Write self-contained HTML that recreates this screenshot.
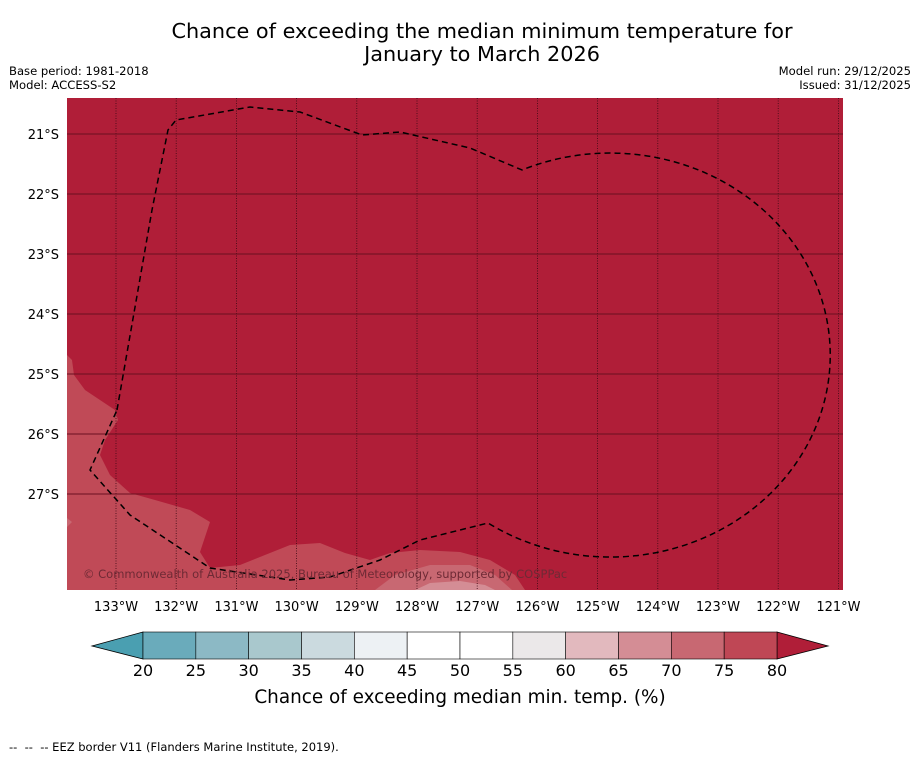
<!DOCTYPE html>
<html><head><meta charset="utf-8"><style>
body{margin:0;background:#fff;font-family:"Liberation Sans","DejaVu Sans",sans-serif}
svg text{font-family:"DejaVu Sans","Liberation Sans",sans-serif}
</style></head><body>
<svg width="919" height="758" viewBox="0 0 919 758">
<text x="482" y="38" text-anchor="middle" font-size="20.8">Chance of exceeding the median minimum temperature for</text>
<text x="482" y="61" text-anchor="middle" font-size="20.8">January to March 2026</text>
<text x="9" y="75" font-size="11.6">Base period: 1981-2018</text>
<text x="9" y="89" font-size="11.6">Model: ACCESS-S2</text>
<text x="911" y="75" font-size="11.6" text-anchor="end">Model run: 29/12/2025</text>
<text x="911" y="89" font-size="11.6" text-anchor="end">Issued: 31/12/2025</text>
<g>
<rect x="67" y="98" width="776" height="492" fill="#b01e38"/>
<path fill="#c04a57" d="M67,355 L72,360 L74,375 L85,390 L115,410 L118,420 L105,440 L100,455 L110,475 L130,493 L155,500 L190,510 L210,522 L200,552 L210,568 L240,565 L290,545 L320,543 L345,553 L370,560 L390,553 L420,550 L460,552 L490,560 L515,575 L525,590 L67,590 Z"/>
<path fill="#c86872" d="M375,590 L395,575 L430,565 L470,565 L495,575 L512,590 Z"/>
<path fill="#d48d95" d="M415,590 L430,583 L460,581 L485,585 L495,590 Z"/>
<path fill="#c86872" d="M67,518 L72,522 L67,527 Z"/>
<g id="grid"></g>
<path fill="none" stroke="#000" stroke-width="1.5" stroke-dasharray="6,4" d="M117,410 L152,210 L168,130 L176,120 L250,107 L300,112 L362,135 L400,132 L470,148 L522,170 A220,202 0 1,1 488,523 L420,540 L380,560 L330,577 L290,580 L210,568 L130,515 L90,470 Z"/>
<text x="83" y="578" font-size="11.5" fill="#6e2a35">© Commonwealth of Australia 2025, Bureau of Meteorology, supported by COSPPac</text>
</g>
<g id="axes"></g>
<g id="cbar"></g>
<text x="460" y="703" text-anchor="middle" font-size="18.4">Chance of exceeding median min. temp. (%)</text>
<text x="9" y="751" font-size="11.5" style="white-space:pre">--  --  -- EEZ border V11 (Flanders Marine Institute, 2019).</text>
</svg>
<script>
const lonLabels=["133°W","132°W","131°W","130°W","129°W","128°W","127°W","126°W","125°W","124°W","123°W","122°W","121°W"];
const lonValues=[-133,-132,-131,-130,-129,-128,-127,-126,-125,-124,-123,-122,-121];
const latLabels=["21°S","22°S","23°S","24°S","25°S","26°S","27°S"];
const latValues=[-21,-22,-23,-24,-25,-26,-27];
const cbTicks=[20,25,30,35,40,45,50,55,60,65,70,75,80];
const cbColors=["#6aabbb","#8cb9c5","#a9c8cd","#cbdadf","#edf1f4","#ffffff","#ffffff","#ebe8e9","#e2b9be","#d48d95","#c86872","#bf4755"];
const NS="http://www.w3.org/2000/svg";
const xLon=v=>116+(v+133)*60.2;
const yLat=v=>134+(-21-v)*60;
const xCb=v=>143+(v-20)*(634/60);
function mk(t,a,p){const e=document.createElementNS(NS,t);for(const k in a)e.setAttribute(k,a[k]);p.appendChild(e);return e;}
const grid=document.getElementById('grid'),axes=document.getElementById('axes'),cb=document.getElementById('cbar');
lonValues.forEach((v,i)=>{const x=xLon(v);
 const l=mk('line',{x1:x,x2:x,y1:98,y2:590,stroke:'#3a0a14','stroke-width':0.8,'stroke-dasharray':'1,1.5'},grid);
 
 
 const t=mk('text',{x:x,y:611,'text-anchor':'middle','font-size':13},axes);t.textContent=lonLabels[i];
 
 });
latValues.forEach((v,i)=>{const y=yLat(v);
 const l=mk('line',{x1:67,x2:843,y1:y,y2:y,stroke:'#6a1020','stroke-width':1},grid);
 
 
 const t=mk('text',{x:59,y:y+5,'text-anchor':'end','font-size':13},axes);t.textContent=latLabels[i];
 
 });
const lt=mk('path',{d:`M${xCb(20)},632 L92,646 L${xCb(20)},659 Z`,fill:'#4a9fb1',stroke:'#000','stroke-width':0.8},cb);


const rt=mk('path',{d:`M${xCb(80)},632 L828,646 L${xCb(80)},659 Z`,fill:'#b01e38',stroke:'#000','stroke-width':0.8},cb);


cbColors.forEach((c,i)=>{const x0=xCb(cbTicks[i]),x1=xCb(cbTicks[i+1]);
 const r=mk('rect',{x:x0,y:632,width:x1-x0,height:27,fill:c,stroke:'#000','stroke-width':0.6},cb);
 
 });
cbTicks.forEach(v=>{const t=mk('text',{x:xCb(v),y:676,'text-anchor':'middle','font-size':16},cb);t.textContent=v;
 
 });
</script>
</body></html>
